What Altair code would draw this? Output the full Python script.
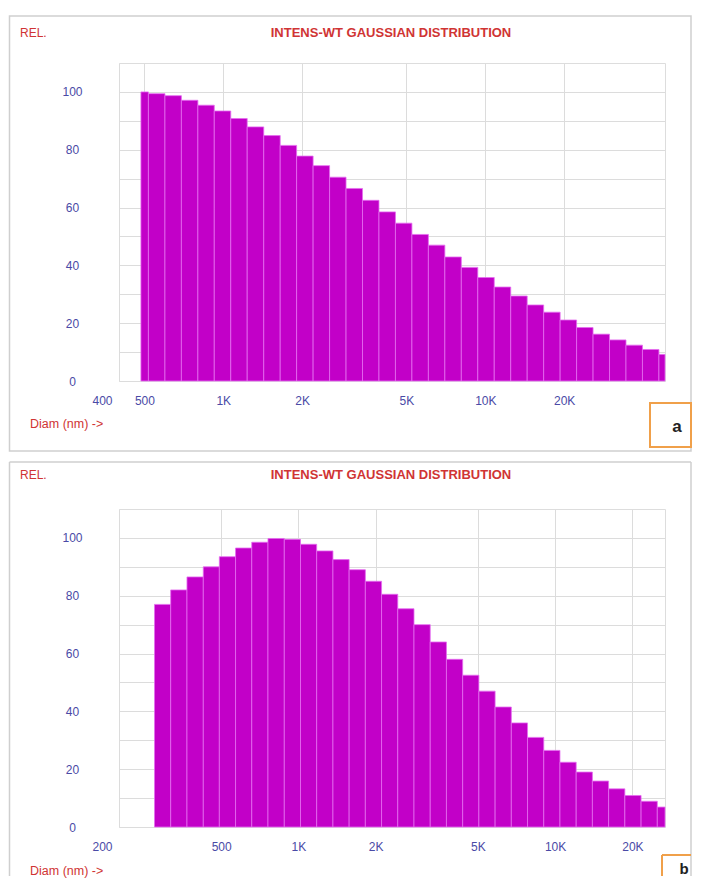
import altair as alt
import pandas as pd

# ---------------- data ----------------
# panel a: bar edges (nm) and relative intensities
A_EDGES = [485, 518, 599, 692, 800, 924, 1068, 1234, 1427, 1649, 1905, 2202,
           2545, 2941, 3399, 3928, 4540, 5247, 6064, 7008, 8099, 9360, 10817,
           12502, 14448, 16698, 19298, 22303, 25775, 29788, 34426, 39786,
           45981, 48500]
A_VALUES = [100, 99.4, 98.7, 97.1, 95.4, 93.4, 90.8, 87.9, 84.9, 81.5, 77.8,
            74.5, 70.5, 66.6, 62.5, 58.5, 54.6, 50.7, 47, 42.9, 39.3, 35.8,
            32.5, 29.4, 26.3, 23.8, 21.1, 18.5, 16.2, 14.2, 12.4, 10.9, 9.2]

# panel b
B_EDGES = [275, 318, 368, 426, 492, 569, 658, 761, 881, 1019, 1178, 1363,
           1576, 1823, 2108, 2438, 2820, 3262, 3773, 4364, 5047, 5838, 6752,
           7809, 9032, 10446, 12082, 13974, 16163, 18694, 21622, 25008, 26800]
B_VALUES = [77, 82, 86.5, 90, 93.5, 96.5, 98.5, 99.8, 99.5, 97.8, 95.5, 92.5,
            89, 85, 80.5, 75.5, 70, 64, 58, 52.5, 47, 41.5, 36, 31, 26.5, 22.4,
            19, 15.9, 13.2, 10.9, 8.9, 6.9]

A_TICKS = [400, 500, 1000, 2000, 5000, 10000, 20000]
A_TICK_LABELS = ["400", "500", "1K", "2K", "5K", "10K", "20K"]
B_TICKS = [200, 500, 1000, 2000, 5000, 10000, 20000]
B_TICK_LABELS = ["200", "500", "1K", "2K", "5K", "10K", "20K"]
A_DOMAIN = [400, 48500]
B_DOMAIN = [200, 26800]

Y_GRID = [0, 10, 20, 30, 40, 50, 60, 70, 80, 90, 100]
Y_LABELED = [0, 20, 40, 60, 80, 100]

TITLE = "INTENS-WT GAUSSIAN DISTRIBUTION"
Y_TITLE = "REL."
X_TITLE = "Diam (nm) ->"
TAGS = ["a", "b"]

# ---------------- style ----------------
FONT = "Liberation Sans"
MAGENTA = "#c200c8"
SEP = "#e46cf0"
BLUE = "#4a4aa6"
RED = "#d03434"
GRID = "#dcdcdc"
BORDER = "#cfcfcf"
ORANGE = "#f0a04a"
W, H = 546, 318
LEFT = -109.5  # left edge of the panel frames, relative to the plot origin
RIGHT = 572    # right edge of the panel frames
BOTTOM_B = 367


def lab_expr(vals, labs):
    parts = [f"datum.value == {v} ? '{l}'" for v, l in zip(vals, labs)]
    return " : ".join(parts) + " : ''"


def txt(s, x, y, size=12, color=RED, weight="normal", align="left"):
    return alt.Chart(pd.DataFrame({"t": [s]})).mark_text(
        font=FONT, fontSize=size, color=color, fontWeight=weight,
        align=align, baseline="middle"
    ).encode(x=alt.value(x), y=alt.value(y), text="t:N")


def rule(x1, y1, x2, y2, color, width):
    return alt.Chart(pd.DataFrame({"k": [0]})).mark_rule(
        color=color, strokeWidth=width
    ).encode(x=alt.value(x1), x2=alt.value(x2), y=alt.value(y1), y2=alt.value(y2))


def bars(edges, values, ticks, labels, domain):
    df = pd.DataFrame({"lo": edges[:-1], "hi": edges[1:], "rel": values})
    xaxis = alt.Axis(
        values=ticks, labelExpr=lab_expr(ticks, labels), title=None,
        grid=True, gridColor=GRID, ticks=False, tickSize=0, domain=False,
        labelPadding=19, labelBaseline="middle", labelFont=FONT,
        labelFontSize=12, labelColor=BLUE, labelFlush=False,
        labelOverlap=False,
        labelOffset={"condition": {"test": f"datum.value == {domain[0]}", "value": -17}, "value": 0},
    )
    yaxis = alt.Axis(
        values=Y_GRID,
        labelExpr="indexof(" + str(Y_LABELED) + ", datum.value) >= 0 ? datum.label : ''",
        title=None, grid=True, gridColor=GRID, ticks=False, tickSize=0,
        domain=False, labelPadding=47, labelAlign="center",
        labelBaseline="middle", labelFont=FONT, labelFontSize=12,
        labelColor=BLUE,
    )
    return alt.Chart(df).mark_rect(fill=MAGENTA, stroke=SEP, strokeWidth=0.8).encode(
        x=alt.X("lo:Q", scale=alt.Scale(type="log", domain=domain, nice=False), axis=xaxis),
        x2="hi:Q",
        y=alt.Y("rel:Q", scale=alt.Scale(domain=[0, 110], nice=False), axis=yaxis),
        y2=alt.datum(0),
    )


# panel a
panel_a = alt.layer(
    bars(A_EDGES, A_VALUES, A_TICKS, A_TICK_LABELS, A_DOMAIN),
    alt.Chart(pd.DataFrame({"k": [0]})).mark_rect(
        fill="white", fillOpacity=0, stroke=BORDER, strokeWidth=1.5
    ).encode(x=alt.value(LEFT), x2=alt.value(RIGHT), y=alt.value(-47), y2=alt.value(388)),
    txt(Y_TITLE, -99, -30),
    txt(TITLE, 272, -30, size=13, weight="bold", align="center"),
    txt(X_TITLE, -89, 361, size=12.5),
    alt.Chart(pd.DataFrame({"k": [0]})).mark_rect(
        fill="white", stroke=ORANGE, strokeWidth=2
    ).encode(x=alt.value(531), x2=alt.value(RIGHT), y=alt.value(340), y2=alt.value(384)),
    txt(TAGS[0], 558, 364, size=17, color="#222222", weight="bold", align="center"),
).properties(width=W, height=H)

# panel b
panel_b = alt.layer(
    bars(B_EDGES, B_VALUES, B_TICKS, B_TICK_LABELS, B_DOMAIN),
    rule(LEFT, -47, RIGHT, -47, BORDER, 1.5),
    rule(LEFT, -47, LEFT, BOTTOM_B, BORDER, 1.5),
    rule(RIGHT, -47, RIGHT, BOTTOM_B, BORDER, 1.5),
    txt(Y_TITLE, -99, -34),
    txt(TITLE, 272, -34, size=13, weight="bold", align="center"),
    txt(X_TITLE, -89, 362, size=12.5),
    rule(543, 346, RIGHT, 346, ORANGE, 2),
    rule(543, 346, 543, BOTTOM_B, ORANGE, 2),
    txt(TAGS[1], 565, 360, size=15, color="#222222", weight="bold", align="center"),
).properties(width=W, height=H)

chart = alt.vconcat(panel_a, panel_b, spacing=7).properties(
    padding={"left": 0, "top": 6, "right": 0, "bottom": 0}
).configure_view(stroke="#c4c4c4", strokeWidth=1).configure(font=FONT)

chart.save("out.html", embed_options={"renderer": "svg", "actions": False})
